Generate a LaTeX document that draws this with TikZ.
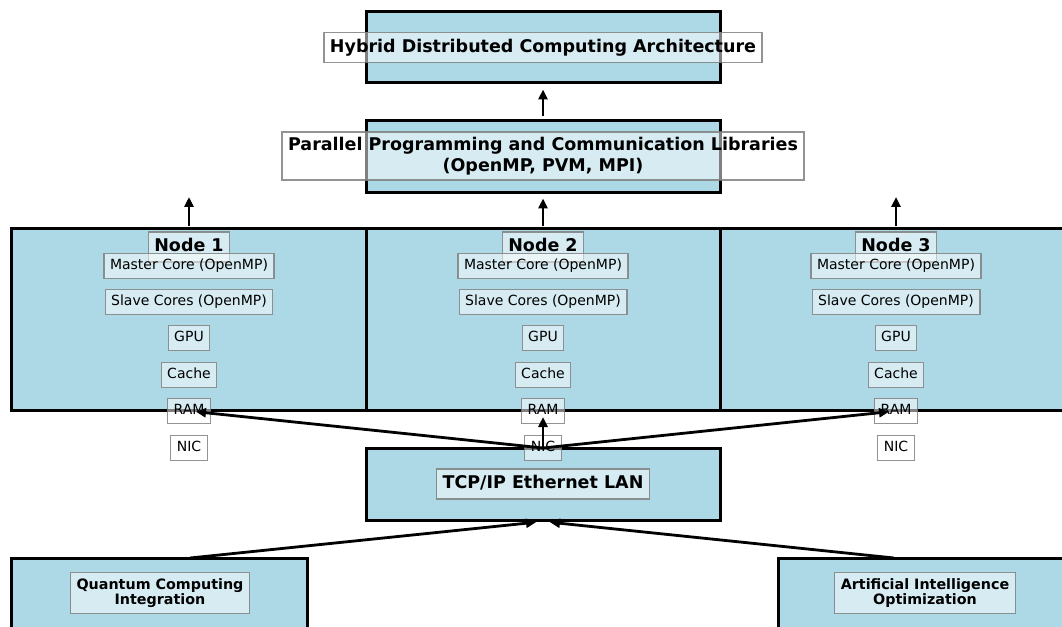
\documentclass[tikz,border=0pt]{standalone}
\usepackage{fontspec}
\setmainfont{DejaVu Sans}
\usetikzlibrary{arrows.meta}
\definecolor{lblue}{HTML}{ADD8E6}
\tikzset{
  bigbox/.style={draw=black, line width=3bp, fill=lblue, inner sep=0pt},
  lblbase/.style={fill=white, fill opacity=0.5, draw=black!50, draw opacity=0.85, text opacity=1,
              line width=1.3bp},
  big/.style={lblbase, font=\fontsize{17.5bp}{21bp}\selectfont\bfseries,
              text height=13.3bp, text depth=3.7bp, inner xsep=6bp, inner ysep=6.5bp},
  small/.style={lblbase, font=\fontsize{14bp}{17bp}\selectfont,
              text height=10.6bp, text depth=2.9bp, inner xsep=6bp, inner ysep=6bp},
  bigm/.style={lblbase, font=\fontsize{17.5bp}{21bp}\selectfont\bfseries, align=center,
              inner xsep=6bp, inner ysep=5bp},
  bot/.style={lblbase, font=\fontsize{14.3bp}{15.5bp}\selectfont\bfseries, align=center,
              inner xsep=6bp, inner ysep=6bp},
  arr/.style={line width=2.8bp, -{Triangle[length=10bp,width=9bp]}},
}
\begin{document}
\begin{tikzpicture}[x=1bp,y=-1bp]
\clip (0,0) rectangle (1062,627);
\useasboundingbox (0,0) rectangle (1062,627);
% main boxes
\node[bigbox, minimum width=354bp, minimum height=71bp] (top) at (543,47.5) {};
\node[bigbox, minimum width=354bp, minimum height=72bp] (lib) at (543,157) {};
\node[bigbox, minimum width=354bp, minimum height=181bp] (n1) at (189,319.5) {};
\node[bigbox, minimum width=354bp, minimum height=181bp] (n2) at (543,319.5) {};
\node[bigbox, minimum width=354bp, minimum height=181bp] (n3) at (897,319.5) {};
\node[bigbox, minimum width=354bp, minimum height=72bp] (lan) at (543,484) {};
\node[bigbox, minimum width=295bp, minimum height=72bp] (qc) at (159.5,594) {};
\node[bigbox, minimum width=295bp, minimum height=72bp] (ai) at (925.5,594) {};
% labels
\node[big] (toplbl) at (543,47.5) {Hybrid Distributed Computing Architecture};
\node[bigm] (liblbl) at (543,156) {Parallel Programming and Communication Libraries\\(OpenMP, PVM, MPI)};
\node[big] (lanlbl) at (543,484) {TCP/IP Ethernet LAN};
\node[bot] (qclbl) at (160,593) {Quantum Computing\\Integration};
\node[bot] (ailbl) at (925,593) {Artificial Intelligence\\Optimization};
\foreach \i/\x in {1/189,2/543,3/896}{
  \node[big] (t\i) at (\x,247) {Node \i};
  \node[small] (master\i) at (\x,266) {Master Core (OpenMP)};
  \node[small] (slave\i) at (\x,302) {Slave Cores (OpenMP)};
  \node[small] (gpu\i) at (\x,338) {GPU};
  \node[small] (cache\i) at (\x,375) {Cache};
  \node[small] (ram\i) at (\x,411) {RAM};
  \node[small] (nic\i) at (\x,448) {NIC};
}
% free arrow ends
\coordinate (up1) at (189,193);
\coordinate (up3) at (896,193);
\coordinate (qtop) at (190,558);
\coordinate (aitop) at (894,558);
% arrows
\draw[arr, shorten <=3bp, shorten >=5bp] (lib.north) -- (top.south);
\draw[arr, shorten <=1bp, shorten >=4bp] (n1.north -| up1) -- (up1);
\draw[arr, shorten <=1bp, shorten >=4bp] (n2.north) -- (lib.south);
\draw[arr, shorten <=1bp, shorten >=4bp] (n3.north -| up3) -- (up3);
\draw[arr, shorten >=7bp] (nic2.center) -- (ram1.center);
\draw[arr, shorten >=6bp] (nic2.center) -- (ram2.center);
\draw[arr, shorten >=7bp] (nic2.center) -- (ram3.center);
\draw[arr, shorten >=7bp] (qtop) -- (lan.south);
\draw[arr, shorten >=7bp] (aitop) -- (lan.south);
\end{tikzpicture}
\end{document}
